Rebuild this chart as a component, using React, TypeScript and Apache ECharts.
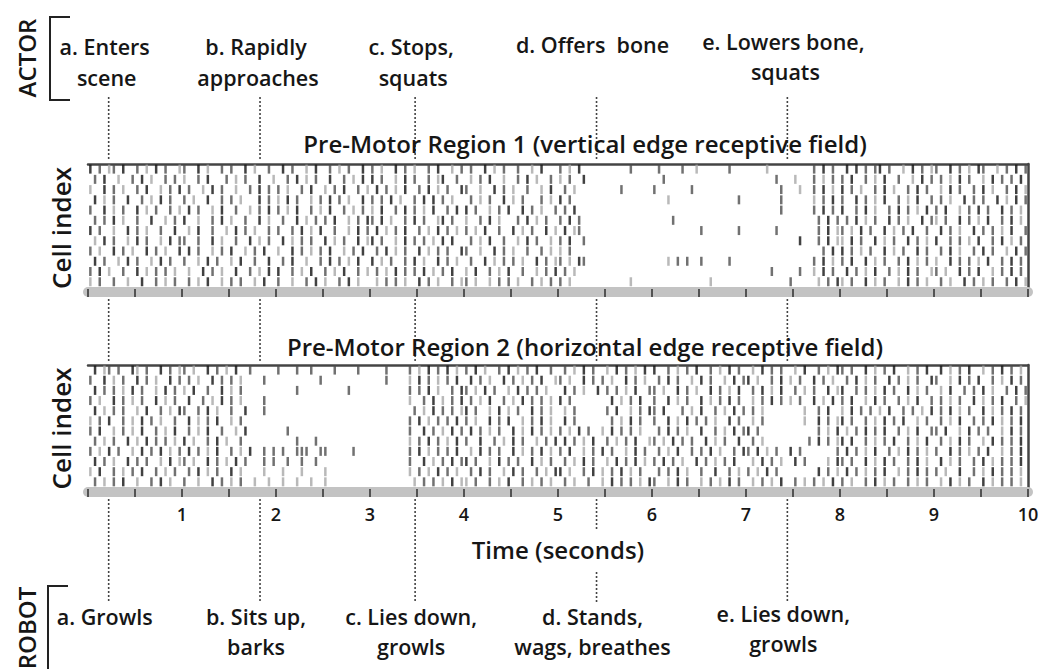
import React, { useEffect, useRef } from "react";
import * as echarts from "echarts";

// ---------------- data ----------------
const TIME_TICKS = [1, 2, 3, 4, 5, 6, 7, 8, 9, 10];
const EVENT_TIMES = [0.22, 1.83, 3.48, 5.41, 7.44];
const ACTOR_LABELS = [["a. Enters", "scene"], ["b. Rapidly", "approaches"], ["c. Stops,", "squats"], ["d. Offers  bone"], ["e. Lowers bone,", "squats"]];
const ROBOT_LABELS = [["a. Growls"], ["b. Sits up,", "barks"], ["c. Lies down,", "growls"], ["d. Stands,", "wags, breathes"], ["e. Lies down,", "growls"]];
const PANEL_TITLES = ["Pre-Motor Region 1 (vertical edge receptive field)", "Pre-Motor Region 2 (horizontal edge receptive field)"];

// one string per cell (top row first); one space-separated group per second,
// each character a 0.05 s bin: "." no spike, "1" faint, "2" medium, "3" dark spike
const REGION1_ROWS = [
  "3.2.12.3..2.1.3.2..1 2..3.1..2.2..3.1..2. .3.2..1.3..2.1.2..3. 2.1..3.2.1..2.3..1.2 .2..3.1.2..2..1.3... 2.1.3..........2.... .2....2..1......2... ....1.........2.3.2. .3.3.2.23.2..1.3.2.1 2..3.2.1.32..1.2.3.2",
  ".2.3..1..2.3.1..2.2. 1..2.3...2.1.2..3..1 ..2.3.1.2..3..2.1.3. 3.2..1.3.2..2.13..2. .1.2.3..1..2.3.1..2. 1.2..3.............. ..2................. ......2...1...2.1.2. 2.3..2.1.3..2..1.3.2 .2.1.3.2..1.3.2.2.3.",
  "1..3.2.1..2.3..1.2.3 .2..1.3.2..1..2.3.2. 2.1..2.3..1.2.3..2.1 .3.2.1.3..2.3.1.2..3 2..1..3.2.1..2..1.3. .2.1.........2...... 2.......2........... .......2...1..2.3.1. 3.2.1..2.3.1..2.3.2. .1.3.2..2.3.1..2.3.1",
  ".3.1.2..3..2.1.3.2.. 2.1..3..2.2.1...3.2. 1.3.2..1.2.3.2.1..3. 2.2.3.1..2.3.3.2.1.. .2.1.2..3.1.2...2.1. 3.2................. ...1..............2. .......2......1.2.3. 2..3.2.1.3..2.1.3..2 .2.1..3.2.2..3.1.3.2",
  "2..3.1.2..3.1.2..2.1 .3.2..1.3..2..1.2.3. 2.1.3..2.1.3..2.1.2. 1.3..2.3.2.1.3..2.3. 3.2..1.2.3..3.2.1..2 .2.3................ .................... .......2......2.3.2. 3..2.3.1..2.3.2.1.3. 2.3..1.2.3.2..3.2.1.",
  ".2.2.3.1..2..3..1.2. 3..1..2.3.1..2..3.1. .2..3.1.2.2.3..1.2.3 2.3.1..2.3.2..13.2.. 1..2.3.1...2.3.1.2.. 2.3.2............... ....2............... ...............2.3.2 .2.3.1.2..3.2.1..3.2 1.2..3.2.1.3..2.3.1.",
  "3.2..1..3.2.1..2..3. .1.3..2..1.3.2.1..2. 2..2.3.1.3..2..1.3.2 .3.1.2.3..2.1.3.2.1. 2.1.3..2..3.1.2..3.1 .3.12............... ..........2.......2. ......2........2.3.1 2.1.3.2..3.1.2.3..2. .3.2.1..3.2.2.1.3..2",
  ".1.3.2..1.3.2..1.3.2 2..2..3.1..2..3.1.2. .3.1.2.2..3.1.2..3.1 3.2..1.3.2.2.1.3.3.. .2.1.3..2..1.3.2..1. 2.3..2.............. .................... ...........3...2.3.1 1.3.2..3.1.2..3.2.1. 3..2.2.1.3..2.3.1.2.",
  "2.1..3.2.1..3.2.1..3 .3.2..1.2.3..1.2.3.. 1..3.2.1.2.3..1.2.3. .2.3.1.2..3.1.2.2..3 2..1..3.2.1..2..2.1. 1.2................. .................... ................2.3. 3.2.1.2..3.1.2..3.2. .2.3.1..2.3.2..1.3.2",
  ".3.2..1.3.2..1.3.2.. 2..1.3.2..1.3..2..3. .2.3..1..2.3.2.1.3.. 3.1.2..2.3.1..3.2.1. .2..3.1.2.2.1..3.2.1 2.1.32.............. ...1.2.2..2.....2... ..............2.3.1. 2.3..3.1.2..2.3.1.2. 1..3.2.2.1.3..2.3.2.",
  "2.3.1..2..3.1.2.2.1. .1..3.2.1..3..2.1.3. 3..2.1.3..2.1.3..2.1 .2.1.3.2.2.3.1.2.3.. 1.3..2.1.3..2..1.2.3 .2.1................ .................... .....2.....2..1.3.2. .3.2.1.3..2.1.3.2..1 2.1..3.2.3..1.2.3.2.",
  "1.2..2..1..3..2.1.2. .2.1.3..1.2.2..1.3.. 2..1..2.3.1..2.3.1.. .1.2.2.1..3.2.1..2.1 2.1..1.2.2.1..2.1.2. 2.1............1.... ............1....... .........2.....1.2.3 1.2..3.1.2..1.3.2.1. .2.1..3.2.1.2..2.3.1",
];

const REGION2_ROWS = [
  ".3.12.2..31.2..3.2.1 2.1..3.2.1.3..2..... 2...2..2....2....2.. ...2....2.1.3.2.3.1. 2.3.1..2.3.1.2.3..2. .2.1.3.2..1.3.2.1.3. 3..2.1.2.3..2.1.3.2. .1.3.2.2..1.3..2.1.3 2.2..3.1.2.3..1.2.3. .3.1.2.3..1.2.3.2.1.",
  "2..3.1.2..3.2.1..3.2 .2.1..3.2.2.1....2.. .........2.......... ...2....1.3.2.1.2.3. .3.2.1..3.2.1.2.3..1 2.1..3.2.2.1..3.2.1. .2.3.2..1.3.2..1.3.2 3.1..2.3.1.2..3.2.1. .2.3.1.2..3.2.1.2..3 2..1.3.2.3..2.1.3.2.",
  ".3.2.2.1.3.2..1.3.2. 1.3..2..3.1.2....... ....2..........2.... ........2.2.3.1..2.3 2.1.3.2..1.3.2.2.1.. .3.2.1..3.2.2.1.3..2 2.1..3.2.1..3.2.1.3. .2.3.1.3..2.1.2..3.1 3..2.2.1.3.2..3.1.2. .1.3..2.2.3.1..2.3.2",
  "2.1..3.2.1.2..3.1.2. .3..2.1.3.2.1....2.. .................... ........1..2.3.1.2.3 .2.1.3..2.1.3.2.2.1. 3.2........3.1.2.3.. 2..3.1.2..3.1.2.3.2. .1.2.3.2.1.2..3.1.3. 2.3..1.3.2..2.1.3..2 .2.1.2..3.1.2.3..2.1",
  ".3.1.2.2..1.3..2.1.3 2..2.3.1..2..3...2.. .................... .........2.1.3.2.2.1 3.2..1.3.1.2..3.2.1. .1.2......2.3..1.2.3 2.3...2.1.3..2.1.3.2 .2.1........1..2.3.. 1.3.2.2.1.3..2.2.1.3 .2.3.1.2..3.1.2.3.2.",
  "1.2.3..2.1.3.2.1..2. .3.1.2.3..1.2....... .................... ........2.3.1.2.2.3. 2.1..3.2.3..1.2.3.1. .3.2.......2.1.3.2.. 2..3.1.3.2.2.1..3.2. .1.2........1..3.2.1 3.2..2.1.3.2.3..1.2. .2.1.3..2.2.3.1.2.3.",
  "2.3..1.2.1.3..2.1.3. .2.1.3..2..1.3...... ..2................. ........2..3.2.1.3.2 .3.2.1.2..3.1.3.2.1. 2.1.3.2..1.3.2.2.1.. .2.3.2.1..3..2.1.3.2 3.2............2.1.3 .1.2.3.2.3..2.1.3..2 2.3..1.3.2.2..1.3.2.",
  ".2.1.2..3.1.3.2.2.1. 3.1..2.3.1..2....... ....2...2........... ........1.2.3.2.1.3. 2..3..2.1.3.2..1.2.3 .3.2.1.3..2.1.2.3..1 2.1.3.2.2..3.1.2..3. .2.1.........2.3.2.1 3.3..2.1.2.3..2.1.3. .2.1.3.2..1.3.2.2.3.",
  "2.1.3.2..1.3.2.3.1.2 .3.2.1.3..2.1.3..2.2 .2..222..22.....2... ........2.3.1.2.2.3. .1.3.2.2..3.1.2.3.1. 2.3..1.2.3.2..1.3.2. .2.1.3..2.2.3.1..2.3 2.3.1.2..3.2.......2 .3.2.1.3..2.1.3.2.1. 2..3.2.1.2.3..1.2.3.",
  ".3.2.1..3.2.2..1.3.1 2.1..3.2.1.3.2...2.2 ..2..2..2........... ........2..3.1.2.3.2 3.2..1.3.2.2..3.1.2. .2.1.3.2..1.3.2.3.1. 2.3.2.1..3.2.1.2.3.. .1.3.2.1..3.2....1.3 2.2..3.1.3.2..2.3.1. .3.1.2..2.3.1.2.2.3.",
  "1.3..2.1.2.3..2.1.2. .2.3.1.2..3.1....1.. .1...1....1......... ........1.2.1.3.2.1. .2.3.2..1.3.2..2.1.3 3.1..2.3.1.2.3.1.2.. .2.2.3.1..2..3..2.1. 2.1.3.2........3.2.1 .3.2.1.2.3..1.2.3.2. 2.1..3..2.1.3.2.2.1.",
  ".2.1.2.3..1..2.3.1.. 2..1..3.2.1.2..1..1. .1..1..1..1......... .........1.2.2.1.3.1 1.2..2.1.3..2.1.2.1. .2.1..2..1.3.2.2.1.3 2..1.3.2..1.2.1.3.2. .1.2.1.3..2.1.2.1.3. 2.1..2.3.1.2..2.1.2. .1.3.1.2..3.1.2.2.1.",
];

const SPIKE_SHADES: Record<string, string> = { "1": "#a8a8a8", "2": "#4e4e4e", "3": "#111111" };

// ---------------- helpers ----------------
const FONT = '"Open Sans", "Liberation Sans", sans-serif';
const INK = "#161616";
const Y_MIN = -0.5;
const Y_MAX = 12;

function buildSpikes(rows: string[]) {
  const out: any[] = [];
  rows.forEach((row, r) => {
    const yv = rows.length - 1 - r + 0.5;
    row.split(" ").forEach((g, sec) => {
      for (let k = 0; k < g.length; k++) {
        const c = g[k];
        if (!SPIKE_SHADES[c]) continue;
        out.push({ value: [sec + (k + 0.5) / g.length, yv], itemStyle: { color: SPIKE_SHADES[c] } });
      }
    });
  });
  return out;
}

function panelXAxes(g: number, withLabels: boolean) {
  const base = { gridIndex: g, type: "value", min: 0, max: 10, splitLine: { show: false } };
  return [
    {
      ...base,
      position: "bottom",
      axisLine: { show: true, onZero: false, lineStyle: { color: "#c3c3c3", width: 10 } },
      axisTick: { show: false },
      axisLabel: { show: false },
    },
    {
      ...base,
      position: "bottom",
      offset: 5,
      interval: 0.5,
      z: 5,
      axisLine: { show: false, onZero: false },
      axisTick: { show: true, inside: true, length: 8, lineStyle: { color: "#2e2e2e", width: 1.5 } },
      axisLabel: withLabels
        ? {
            show: true,
            margin: 8,
            fontSize: 18,
            fontFamily: FONT,
            fontWeight: 600,
            color: INK,
            formatter: (v: number) => (TIME_TICKS.includes(v) ? String(v) : ""),
          }
        : { show: false },
      name: withLabels ? "Time (seconds)" : "",
      nameLocation: "middle",
      nameGap: 40,
      nameTextStyle: { fontSize: 24, fontFamily: FONT, fontWeight: 600, color: INK },
    },
    {
      ...base,
      position: "top",
      axisLine: { show: true, onZero: false, lineStyle: { color: "#444", width: 2.5 } },
      axisTick: { show: false },
      axisLabel: { show: false },
    },
  ];
}

function panelYAxes(g: number) {
  const base = { gridIndex: g, type: "value", min: Y_MIN, max: Y_MAX, splitLine: { show: false }, axisTick: { show: false }, axisLabel: { show: false } };
  return [
    {
      ...base,
      position: "left",
      axisLine: { show: false, onZero: false },
      name: "Cell index",
      nameLocation: "middle",
      nameGap: 14,
      nameRotate: 90,
      nameTextStyle: { fontSize: 26, fontFamily: FONT, fontWeight: 600, color: INK },
    },
    {
      ...base,
      position: "right",
      axisLine: { show: true, onZero: false, lineStyle: { color: "#444", width: 2.5 } },
    },
  ];
}

function label(text: string, x: number, y: number, size: number, rotation = 0) {
  return {
    type: "text",
    x,
    y,
    rotation,
    z: 10,
    style: {
      text,
      fill: INK,
      font: `600 ${size}px ${FONT}`,
      textAlign: "center",
      textVerticalAlign: "middle",
    },
  };
}

function dashed(x: number, y1: number, y2: number) {
  return {
    type: "line",
    z: 1,
    shape: { x1: x, y1, x2: x, y2 },
    style: { stroke: "#444", lineWidth: 1.6, lineDash: [2, 2] },
  };
}

export default function App() {
  const ref = useRef<HTMLDivElement>(null);

  useEffect(() => {
    if (!ref.current) return;
    const chart = echarts.init(ref.current, undefined, { renderer: "svg" });

    const spikeSeries = (xi: number, yi: number, rows: string[]) => ({
      type: "scatter",
      xAxisIndex: xi,
      yAxisIndex: yi,
      symbol: "rect",
      symbolSize: [2.5, 9],
      silent: true,
      data: buildSpikes(rows),
    });

    const option: any = {
      animation: false,
      backgroundColor: "#ffffff",
      grid: [
        { left: 88, right: 16, top: 164, height: 128 },
        { left: 88, right: 16, top: 365, height: 127 },
      ],
      xAxis: [...panelXAxes(0, false), ...panelXAxes(1, true)],
      yAxis: [...panelYAxes(0), ...panelYAxes(1)],
      series: [spikeSeries(0, 0, REGION1_ROWS), spikeSeries(3, 2, REGION2_ROWS)],
    };
    chart.setOption(option);

    const xs = EVENT_TIMES.map((t) => chart.convertToPixel({ xAxisIndex: 0 } as any, t) as number);
    const elements: any[] = [];

    xs.forEach((x, i) => {
      elements.push(dashed(x, 97, 161));
      elements.push(dashed(x, 299, 363));
      if (i === 3) {
        elements.push(dashed(x, 499, 530));
        elements.push(dashed(x, 572, 603));
      } else {
        elements.push(dashed(x, 499, 603));
      }
      const a = ACTOR_LABELS[i];
      const aY1 = i === 4 ? 41 : i === 3 ? 44 : 46;
      const aY2 = i === 4 ? 71 : 77;
      elements.push(label(a[0], x - 4, aY1, 21.5));
      if (a[1]) elements.push(label(a[1], x - 2, aY2, 21.5));
      const r = ROBOT_LABELS[i];
      const rY1 = i === 4 ? 613 : 616;
      const rY2 = i === 4 ? 643 : 646;
      elements.push(label(r[0], x - 4, rY1, 21.5));
      if (r[1]) elements.push(label(r[1], x - 4, rY2, 21.5));
    });

    elements.push(label(PANEL_TITLES[0], 585, 143, 24));
    elements.push(label(PANEL_TITLES[1], 585, 346, 24));
    elements.push(label("ACTOR", 26, 58, 24, Math.PI / 2));
    elements.push(label("ROBOT", 26, 628, 24, Math.PI / 2));
    elements.push({
      type: "polyline",
      shape: { points: [[70, 17], [50, 17], [50, 100], [70, 100]] },
      style: { stroke: "#222", lineWidth: 2, fill: "none" },
    });
    elements.push({
      type: "polyline",
      shape: { points: [[68, 586], [48, 586], [48, 672]] },
      style: { stroke: "#222", lineWidth: 2, fill: "none" },
    });

    chart.setOption({ graphic: elements });

    return () => chart.dispose();
  }, []);

  return (
    <div
      ref={ref}
      style={{ position: "fixed", left: 0, top: 0, width: 1044, height: 669, background: "#fff" }}
    />
  );
}
